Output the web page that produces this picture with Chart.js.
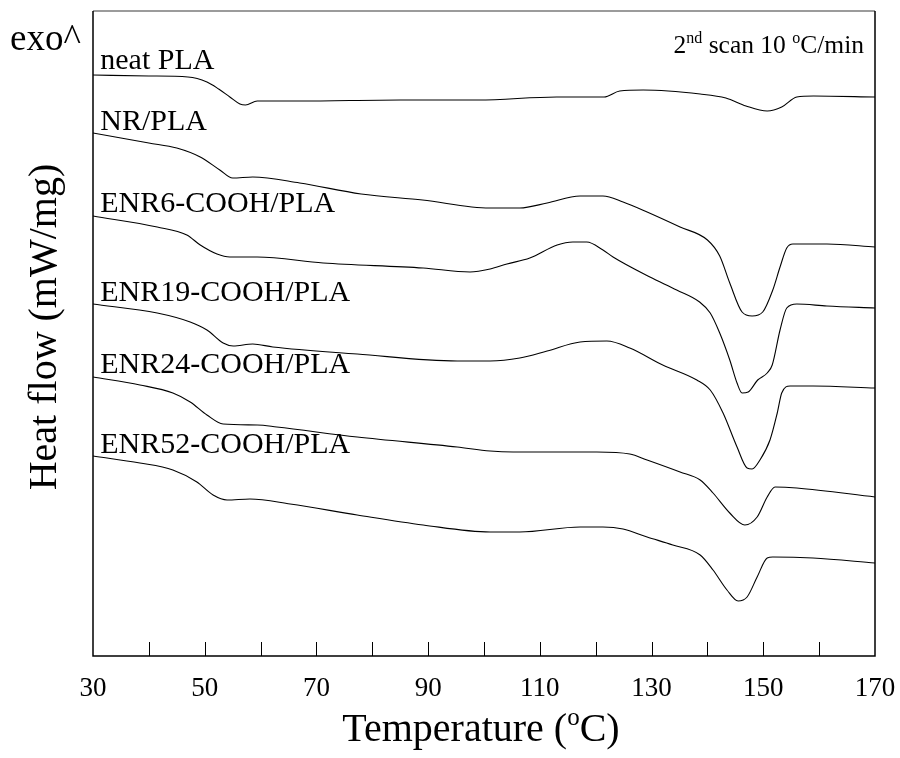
<!DOCTYPE html>
<html>
<head>
<meta charset="utf-8">
<script src="https://cdn.jsdelivr.net/npm/chart.js@4.4.1/dist/chart.umd.min.js"></script>
<style>
  html, body { margin: 0; padding: 0; background: #ffffff; }
  #wrap { width: 900px; height: 758px; }
</style>
</head>
<body>
<div id="wrap"><canvas id="dsc"></canvas></div>
<script>
// DSC second heating scans, 10 °C/min; curves are vertically offset (exo up)
const seriesNames = ['neat PLA', 'NR/PLA', 'ENR6-COOH/PLA', 'ENR19-COOH/PLA', 'ENR24-COOH/PLA', 'ENR52-COOH/PLA'];

const neatT  = [30, 40, 47, 50.4, 52.5, 54.5, 56.3, 57.3, 59.4, 67, 85, 99, 113, 121.5, 124.3, 128.5, 138.7, 143.3, 146.9, 150.7, 153.3, 156, 159, 170];
const neatHF = [5.81, 5.80, 5.79, 5.74, 5.67, 5.59, 5.52, 5.51, 5.55, 5.55, 5.56, 5.56, 5.59, 5.59, 5.65, 5.66, 5.62, 5.58, 5.50, 5.45, 5.49, 5.59, 5.60, 5.59];

const nrT  = [30, 40, 45, 49.2, 52.7, 55, 58.6, 67, 78, 89, 101, 106.4, 111.3, 117.2, 121.3, 124.9, 129.2, 135.1, 140, 142.2, 144, 146.2, 148, 149.9, 151.7, 153, 154.2, 155.3, 161.4, 170];
const nrHF = [5.23, 5.13, 5.08, 4.99, 4.86, 4.78, 4.79, 4.73, 4.62, 4.56, 4.48, 4.48, 4.53, 4.60, 4.60, 4.54, 4.44, 4.29, 4.16, 4.00, 3.73, 3.44, 3.40, 3.44, 3.66, 3.89, 4.08, 4.12, 4.12, 4.09];

const enr6T  = [30, 41.5, 46.8, 49.2, 52.2, 54.5, 59.4, 71.2, 89.1, 97.5, 101.1, 104.1, 108.2, 113.1, 115.9, 118.4, 121.3, 123.1, 129.7, 134.5, 138.6, 140.5, 142.2, 144, 145.3, 146.2, 147.3, 149, 150.7, 151.6, 153, 154.2, 156, 161.4, 170];
const enr6HF = [4.40, 4.29, 4.21, 4.11, 4.02, 3.99, 3.99, 3.93, 3.88, 3.84, 3.87, 3.92, 3.98, 4.11, 4.14, 4.14, 4.06, 3.99, 3.79, 3.66, 3.54, 3.43, 3.23, 2.96, 2.73, 2.63, 2.64, 2.76, 2.83, 2.91, 3.26, 3.48, 3.52, 3.50, 3.48];

const enr19T  = [30, 41.5, 47.4, 50.4, 53.3, 55.1, 58.6, 62.2, 77.3, 95.2, 101.1, 106.4, 111.3, 117.2, 122, 126.1, 132, 138.1, 140.5, 142.8, 145.3, 147.1, 148, 149.4, 151.2, 152.5, 153.3, 154.8, 158.9, 170];
const enr19HF = [3.52, 3.43, 3.34, 3.26, 3.13, 3.10, 3.12, 3.09, 3.02, 2.95, 2.95, 2.98, 3.05, 3.14, 3.15, 3.08, 2.91, 2.76, 2.66, 2.43, 2.09, 1.88, 1.87, 1.96, 2.16, 2.43, 2.63, 2.70, 2.70, 2.68];

const enr24T  = [30, 38.4, 44.3, 47.4, 50.4, 53.3, 59.4, 62.9, 77.3, 95.2, 101.1, 105.2, 120.2, 126.1, 129.2, 135.1, 138.7, 141, 144, 146.7, 148.9, 150.7, 152.1, 156, 170];
const enr24HF = [2.79, 2.71, 2.63, 2.54, 2.41, 2.32, 2.31, 2.29, 2.19, 2.09, 2.05, 2.04, 2.04, 2.02, 1.96, 1.84, 1.76, 1.63, 1.43, 1.31, 1.39, 1.59, 1.69, 1.68, 1.59];

const enr52T  = [30, 38.4, 44.3, 48.6, 51.5, 54, 58.1, 65.3, 77.3, 89.1, 101.1, 106.4, 117.2, 121.3, 124.9, 129.2, 133.8, 138.7, 141, 143.5, 145.5, 147.1, 148.9, 150.7, 151.7, 158.9, 170];
const enr52HF = [2.00, 1.93, 1.86, 1.74, 1.61, 1.56, 1.57, 1.52, 1.41, 1.31, 1.24, 1.24, 1.29, 1.29, 1.27, 1.19, 1.11, 1.01, 0.86, 0.66, 0.55, 0.59, 0.79, 0.98, 0.99, 0.98, 0.93];

const xTickLabels = [30, 50, 70, 90, 110, 130, 150, 170];

// where each curve's name is written (temperature, heat flow at text baseline)
const nameAnchorT = 31.3;
const nameAnchorHF = [5.87, 5.26, 4.44, 3.55, 2.83, 2.03];

const SERIF = '"Liberation Serif", "Times New Roman", Times, serif';

const curveTemps = [neatT, nrT, enr6T, enr19T, enr24T, enr52T];
const curveFlows = [neatHF, nrHF, enr6HF, enr19HF, enr24HF, enr52HF];

const datasets = seriesNames.map((name, i) => ({
  label: name,
  data: curveTemps[i].map((t, k) => ({ x: t, y: curveFlows[i][k] })),
  borderColor: '#000000',
  borderWidth: 1.1,
  pointRadius: 0,
  fill: false,
  cubicInterpolationMode: 'monotone'
}));

// text made of normal and superscript pieces
function drawRich(ctx, parts, x, y, size, align) {
  const supSize = Math.round(size * 0.62);
  let total = 0;
  const widths = parts.map(p => {
    ctx.font = (p.sup ? supSize : size) + 'px ' + SERIF;
    const w = ctx.measureText(p.t).width;
    total += w;
    return w;
  });
  let cx = align === 'right' ? x - total : align === 'center' ? x - total / 2 : x;
  ctx.textBaseline = 'alphabetic';
  ctx.textAlign = 'left';
  parts.forEach((p, i) => {
    ctx.font = (p.sup ? supSize : size) + 'px ' + SERIF;
    ctx.fillText(p.t, cx, p.sup ? y - size * 0.40 : y);
    cx += widths[i];
  });
}

const decorations = {
  id: 'dscDecorations',
  afterDatasetsDraw(chart) {
    const { ctx, chartArea: a, scales } = chart;
    const xs = scales.x, ys = scales.y;
    ctx.save();

    // frame: grey top edge, black sides and bottom
    ctx.lineWidth = 1.5;
    ctx.strokeStyle = '#7a7a7a';
    ctx.beginPath(); ctx.moveTo(a.left, a.top); ctx.lineTo(a.right, a.top); ctx.stroke();
    ctx.strokeStyle = '#000000';
    ctx.beginPath();
    ctx.moveTo(a.left, a.top); ctx.lineTo(a.left, a.bottom); ctx.lineTo(a.right, a.bottom); ctx.lineTo(a.right, a.top);
    ctx.stroke();

    // inward tick marks every 10 °C
    ctx.lineWidth = 1;
    xs.ticks.forEach(tk => {
      if (tk.value <= xs.min || tk.value >= xs.max) return;
      const px = Math.round(xs.getPixelForValue(tk.value)) + 0.5;
      ctx.beginPath(); ctx.moveTo(px, a.bottom); ctx.lineTo(px, a.bottom - 14); ctx.stroke();
    });

    ctx.fillStyle = '#000000';
    // curve names
    seriesNames.forEach((name, i) => {
      drawRich(ctx, [{ t: name }], xs.getPixelForValue(nameAnchorT), ys.getPixelForValue(nameAnchorHF[i]), 30, 'left');
    });

    // scan conditions, upper right
    drawRich(ctx, [{ t: '2' }, { t: 'nd', sup: true }, { t: ' scan 10 ' }, { t: 'o', sup: true }, { t: 'C/min' }],
      a.right - 11, a.top + 42, 25.5, 'right');

    // exotherm direction
    drawRich(ctx, [{ t: 'exo^' }], 10, 50, 37, 'left');

    // axis titles
    drawRich(ctx, [{ t: 'Temperature (' }, { t: 'o', sup: true }, { t: 'C)' }], 481, 741, 40, 'center');
    ctx.save();
    ctx.translate(56, 327);
    ctx.rotate(-Math.PI / 2);
    drawRich(ctx, [{ t: 'Heat flow (mW/mg)' }], 0, 0, 40, 'center');
    ctx.restore();

    ctx.restore();
  }
};

new Chart(document.getElementById('dsc'), {
  type: 'line',
  data: { datasets },
  plugins: [decorations],
  options: {
    responsive: true,
    maintainAspectRatio: false,
    animation: false,
    events: [],
    layout: { padding: { top: 11, right: 25, left: 0, bottom: 0 } },
    plugins: { legend: { display: false }, tooltip: { enabled: false } },
    scales: {
      x: {
        type: 'linear',
        min: 30,
        max: 170,
        grid: { display: false, drawTicks: false },
        border: { display: false },
        ticks: {
          stepSize: 10,
          autoSkip: false,
          maxRotation: 0,
          padding: 17,
          color: '#000000',
          font: { family: SERIF, size: 27 },
          callback: v => (xTickLabels.includes(v) ? String(v) : '')
        },
        afterFit: s => { s.height = 102; s.paddingLeft = 0; s.paddingRight = 0; }
      },
      y: {
        type: 'linear',
        min: 0,
        max: 6.45,
        grid: { display: false, drawTicks: false },
        border: { display: false },
        ticks: { display: false },
        afterFit: s => { s.width = 93; s.paddingTop = 0; s.paddingBottom = 0; }
      }
    }
  }
});
</script>
</body>
</html>
